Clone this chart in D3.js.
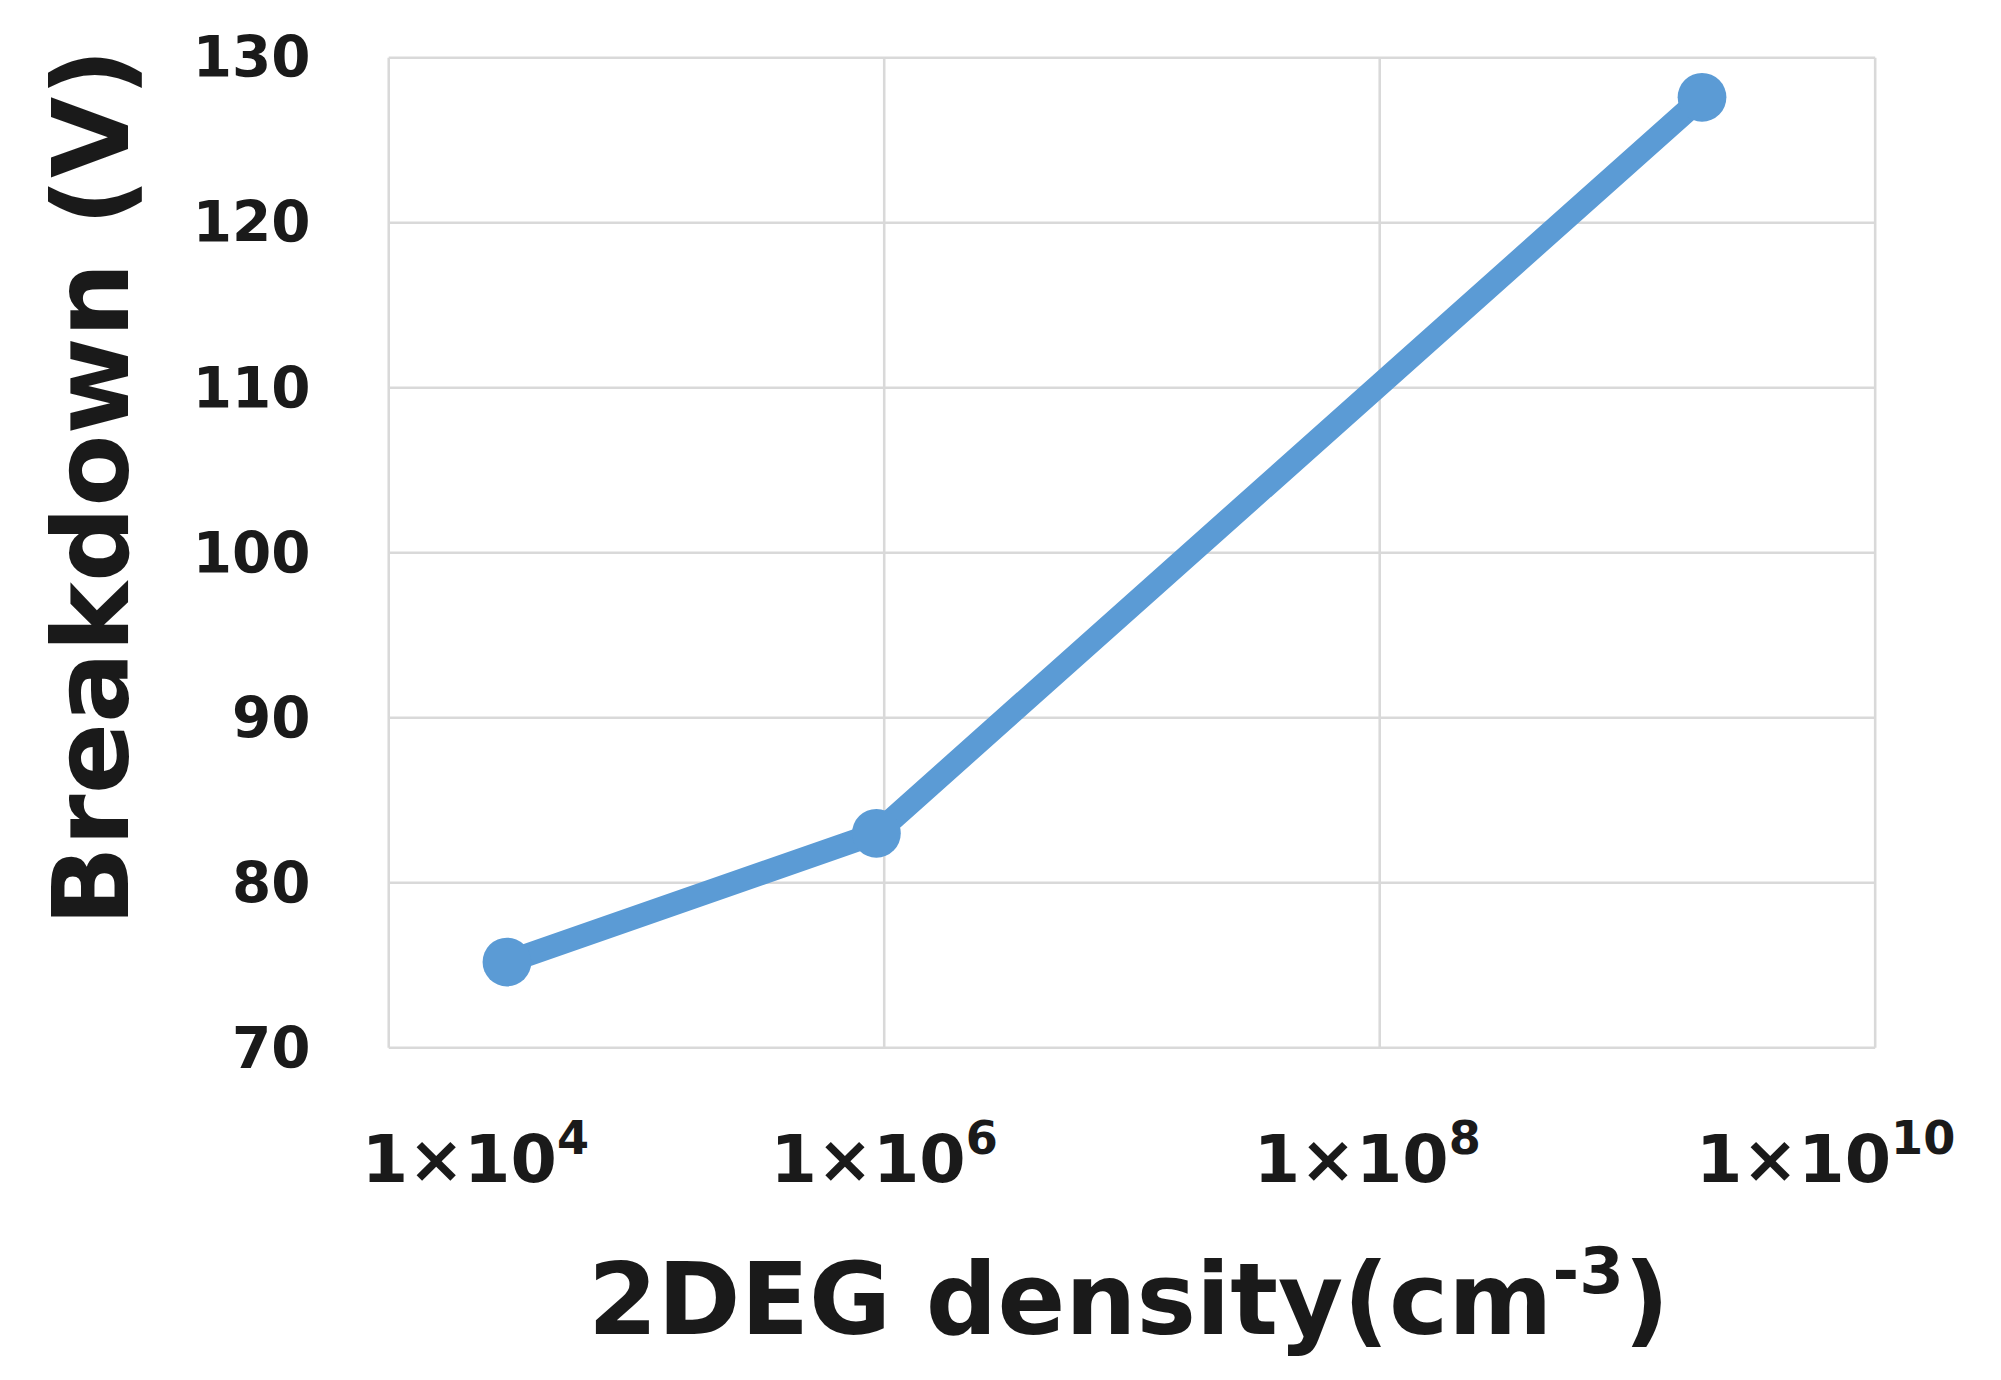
<!DOCTYPE html>
<html><head><meta charset="utf-8">
<script src="https://cdn.jsdelivr.net/npm/d3@7"></script>
<style>body{margin:0;background:#fff}</style>
</head><body>
<svg id="chart" width="2001" height="1380" viewBox="0 0 1560 1076"></svg>
<script>
// data
const density = [3e4, 9.3e5, 2e9];
const breakdown = [75.2, 83.0, 127.6];
const yTicks = [70, 80, 90, 100, 110, 120, 130];
const xGrid = [1e4, 1e6, 1e8, 1e10];
const xLabels = [["1\u00d710", "4", Math.pow(10, 4.35)], ["1\u00d710", "6", 1e6], ["1\u00d710", "8", Math.pow(10, 7.95)], ["1\u00d710", "10", Math.pow(10, 9.8)]];

const svg = d3.select("#chart");
const m = { left: 303, right: 1462, top: 45, bottom: 817 };
const x = d3.scaleLog().domain([1e4, 1e10]).range([m.left, m.right]);
const y = d3.scaleLinear().domain([70, 130]).range([m.bottom, m.top]);
const font = "Verdana, 'DejaVu Sans', sans-serif";

// grid
svg.append("g").selectAll("line").data(yTicks).join("line")
    .attr("x1", m.left).attr("x2", m.right)
    .attr("y1", d => y(d)).attr("y2", d => y(d))
    .attr("stroke", "#d9d9d9").attr("stroke-width", 2);
svg.append("g").selectAll("line").data(xGrid).join("line")
    .attr("x1", d => x(d)).attr("x2", d => x(d))
    .attr("y1", m.top).attr("y2", m.bottom)
    .attr("stroke", "#d9d9d9").attr("stroke-width", 2);

// y tick labels
svg.append("g").selectAll("text").data(yTicks).join("text")
    .attr("x", 242).attr("y", d => y(d)).attr("dy", "0.35em")
    .attr("text-anchor", "end").attr("font-family", font)
    .attr("font-weight", "bold").attr("font-size", 44).attr("fill", "#1a1a1a")
    .text(d => d);

// x tick labels
const xl = svg.append("g").selectAll("text").data(xLabels).join("text")
    .attr("x", d => x(d[2])).attr("y", 922)
    .attr("text-anchor", "middle").attr("font-family", font)
    .attr("font-weight", "bold").attr("font-size", 52).attr("fill", "#1a1a1a");
xl.append("tspan").text(d => d[0]);
xl.append("tspan").attr("dy", -22).attr("font-size", 36).text(d => d[1]);

// axis titles
svg.append("text")
    .attr("transform", `translate(100,380) rotate(-90)`)
    .attr("text-anchor", "middle").attr("font-family", font)
    .attr("font-weight", "bold").attr("font-size", 82).attr("fill", "#1a1a1a")
    .text("Breakdown (V)");
const xt = svg.append("text")
    .attr("x", 880).attr("y", 1040).attr("text-anchor", "middle")
    .attr("font-family", font).attr("font-weight", "bold")
    .attr("font-size", 78).attr("fill", "#1a1a1a");
xt.append("tspan").text("2DEG density(cm");
xt.append("tspan").attr("dy", -32).attr("font-size", 50).text("-3");
xt.append("tspan").attr("dy", 32).text(")");

// series
const pts = density.map((d, i) => [d, breakdown[i]]);
svg.append("path").datum(pts)
    .attr("d", d3.line().x(d => x(d[0])).y(d => y(d[1])))
    .attr("fill", "none").attr("stroke", "#5b9bd5").attr("stroke-width", 18)
    .attr("stroke-linejoin", "round");
svg.append("g").selectAll("circle").data(pts).join("circle")
    .attr("cx", d => x(d[0])).attr("cy", d => y(d[1])).attr("r", 19)
    .attr("fill", "#5b9bd5");
</script>
</body></html>
